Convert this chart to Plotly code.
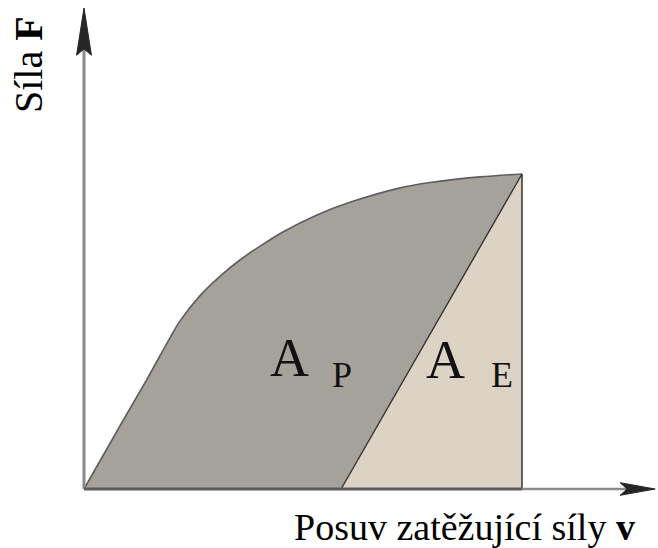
import plotly.graph_objects as go

# Load-displacement curve (arbitrary units: v = displacement, F = force)
v_curve = [0.0, 0.82, 1.44, 1.96, 2.19, 2.65, 3.11, 3.56, 4.02, 4.54, 5.32, 6.07, 7.22, 7.90, 9.04, 10.0]
F_curve = [0.0, 2.00, 3.49, 4.79, 5.33, 6.14, 6.76, 7.27, 7.71, 8.16, 8.70, 9.10, 9.56, 9.73, 9.91, 10.0]

# Elastic unloading: from the peak back to the residual displacement
v_peak, F_peak = 10.0, 10.0
v_residual = 5.87

# Axis extents
v_axis_end = 13.04
F_axis_end = 15.27

GRAY = "#a5a29b"
BEIGE = "#ddd3c4"
AXIS = "#8a8a8a"
SERIF = "Liberation Serif, Times New Roman, serif"

fig = go.Figure()

# Area under the loading curve (plastic work is what remains after the elastic triangle)
fig.add_trace(go.Scatter(
    x=v_curve, y=F_curve, mode="lines",
    line=dict(color="#5e5e5e", width=1.6, shape="spline", smoothing=0.9),
    fill="tozeroy", fillcolor=GRAY, hoverinfo="skip",
))

# Elastic energy triangle
fig.add_trace(go.Scatter(
    x=[v_residual, v_peak, v_peak, v_residual],
    y=[0, F_peak, 0, 0], mode="lines",
    line=dict(color="rgba(0,0,0,0)", width=0),
    fill="toself", fillcolor=BEIGE, hoverinfo="skip",
))

# Unloading line and vertical at peak displacement
fig.add_trace(go.Scatter(
    x=[v_residual, v_peak], y=[0, F_peak], mode="lines",
    line=dict(color="#333333", width=1.4), hoverinfo="skip",
))
fig.add_trace(go.Scatter(
    x=[v_peak, v_peak], y=[0, F_peak], mode="lines",
    line=dict(color="#333333", width=1.5), hoverinfo="skip",
))

shapes = [
    # axes
    dict(type="line", xref="x", yref="y", x0=0, y0=0, x1=0, y1=F_axis_end - 1.2,
         line=dict(color=AXIS, width=3)),
    dict(type="line", xref="x", yref="y", x0=v_peak, y0=0, x1=v_axis_end - 0.6, y1=0,
         line=dict(color=AXIS, width=2.5)),
    dict(type="line", xref="x", yref="y", x0=0, y0=0, x1=v_peak, y1=0,
         line=dict(color="#5c5c5c", width=3)),
    # arrowheads
    dict(type="path", xref="x", yref="y",
         path=f"M 0 {F_axis_end} L -0.17 {F_axis_end - 1.5} L 0 {F_axis_end - 1.3} "
              f"L 0.17 {F_axis_end - 1.5} Z",
         fillcolor="#262626", line=dict(color="#262626", width=1)),
    dict(type="path", xref="x", yref="y",
         path=f"M {v_axis_end} 0 L {v_axis_end - 0.8} 0.2 L {v_axis_end - 0.64} 0 "
              f"L {v_axis_end - 0.8} -0.2 Z",
         fillcolor="#262626", line=dict(color="#262626", width=1)),
]

annotations = [
    dict(text="A", x=4.70, y=4.16, xref="x", yref="y", showarrow=False,
         font=dict(family=SERIF, size=54, color="#111111")),
    dict(text="P", x=5.89, y=3.62, xref="x", yref="y", showarrow=False,
         font=dict(family=SERIF, size=36, color="#111111")),
    dict(text="A", x=8.26, y=4.10, xref="x", yref="y", showarrow=False,
         font=dict(family=SERIF, size=54, color="#111111")),
    dict(text="E", x=9.54, y=3.62, xref="x", yref="y", showarrow=False,
         font=dict(family=SERIF, size=36, color="#111111")),
    dict(text="Síla <b>F</b>", x=29, y=65, xref="paper", yref="paper", showarrow=False,
         textangle=-90, font=dict(family=SERIF, size=40, color="#000000")),
    dict(text="Posuv zatěžující síly <b>v</b>", x=464, y=527, xref="paper", yref="paper",
         showarrow=False, font=dict(family=SERIF, size=38, color="#000000")),
]

# Paper-coordinate labels are given in pixels; convert to fractions
W, H = 658, 548
for a in annotations:
    if a["xref"] == "paper":
        a["x"] = a["x"] / W
        a["y"] = 1 - a["y"] / H
        a["xanchor"] = "center"
        a["yanchor"] = "middle"

px_per_v = 43.8
px_per_F = 31.5
x0_px, y0_px = 84, 489

fig.update_layout(
    width=W, height=H,
    margin=dict(l=0, r=0, t=0, b=0),
    paper_bgcolor="white", plot_bgcolor="white",
    showlegend=False,
    shapes=shapes, annotations=annotations,
    xaxis=dict(range=[-x0_px / px_per_v, (W - x0_px) / px_per_v], visible=False, fixedrange=True),
    yaxis=dict(range=[-(H - y0_px) / px_per_F, y0_px / px_per_F], visible=False, fixedrange=True),
)

fig.write_html("out.html")
